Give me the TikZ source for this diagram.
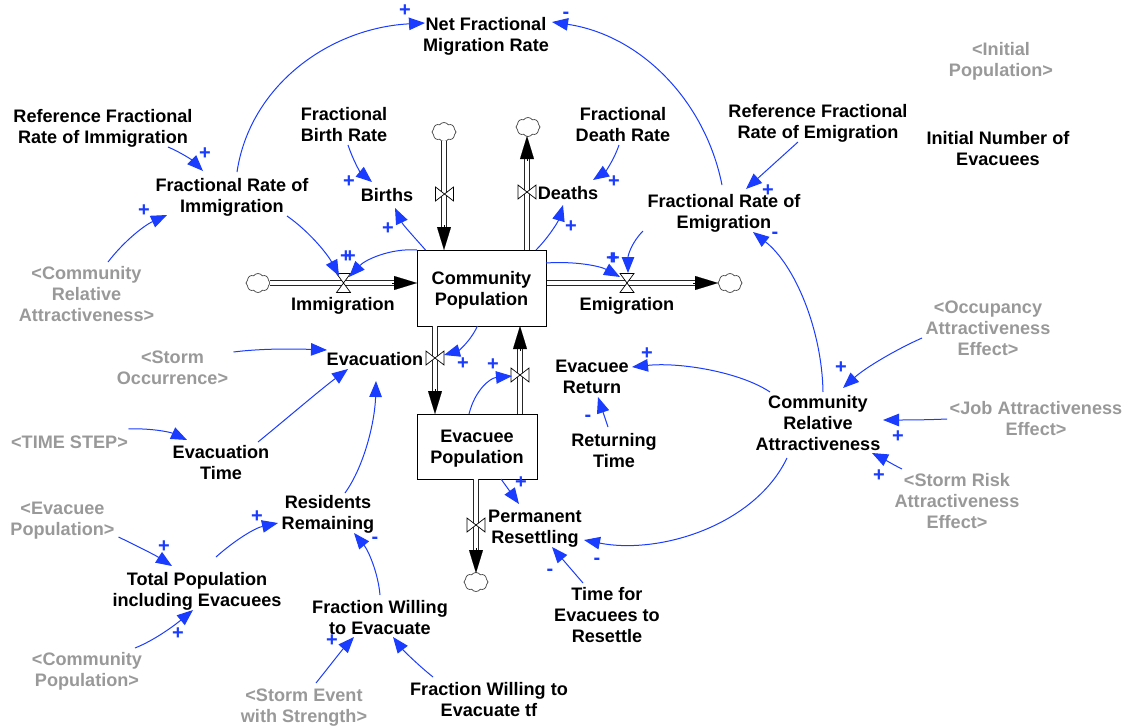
\documentclass[tikz,border=0pt]{standalone}
\usepackage{fontspec}
\setmainfont{Liberation Sans}
\usetikzlibrary{arrows.meta,shapes.symbols,calc}
\definecolor{linkblue}{HTML}{1A3CFF}
\definecolor{shadowgrey}{HTML}{999999}
\newcommand{\dfpipe}[2]{%
  \draw[pipebody] (#1) -- (#2);
  \draw[pipetip] ($(#2)!25pt!(#1)$) -- (#2);}
\newcommand{\valveV}[2]{% valve on a vertical pipe
  \coordinate (#1) at (#2);
  \draw[valvesty] ($(#1)+(-9,-7)$) -- ($(#1)+(9,7)$) -- ($(#1)+(9,-7)$) -- ($(#1)+(-9,7)$) -- cycle;}
\newcommand{\valveH}[2]{% valve on a horizontal pipe
  \coordinate (#1) at (#2);
  \draw[valvesty] ($(#1)+(-7,-9.5)$) -- ($(#1)+(7,9.5)$) -- ($(#1)+(-7,9.5)$) -- ($(#1)+(7,-9.5)$) -- cycle;}
\newcommand{\stocktext}[2]{\raisebox{-2.5pt}[\height][\depth]{\begin{tabular}{@{}c@{}}#1\\#2\end{tabular}}}
\tikzset{
  lbl/.style={font=\fontsize{18.1}{21}\selectfont\bfseries,align=center,inner sep=1pt,text=black},
  lone/.style={lbl,execute at begin node={\rule{0pt}{16pt}}},
  shadow/.style={lbl,text=shadowgrey},
  stock/.style={draw=black,line width=1pt,fill=white,font=\fontsize{18.1}{21}\selectfont\bfseries,inner sep=0pt},
  link/.style={draw=linkblue,line width=1pt,-{Triangle[length=16,width=12.5]}},
  sign/.style={font=\fontsize{20}{20}\selectfont\bfseries,text=linkblue,inner sep=0pt},
  signminus/.style={sign,yshift=-3pt},
  pipebody/.style={draw=black!85,line width=0.9pt,double=white,double distance=3.4pt,shorten >=21pt},
  pipetip/.style={line width=0.1pt,black,-{Triangle[length=23,width=14]}},
  valvesty/.style={draw=black,line width=0.7pt,fill=white},
  sky/.style={cloud,cloud puffs=8,cloud puff arc=110,aspect=1.3,draw=black!75,line width=0.7pt,fill=white,minimum width=24pt,minimum height=19pt,inner sep=0pt},
}
\begin{document}
\begin{tikzpicture}[x=1pt,y=-1pt]
\useasboundingbox (0,0) rectangle (1127,728);
% stocks
\node[stock,minimum width=129pt,minimum height=76pt] (comm) at (481.5,288) {\stocktext{Community}{Population}};
\node[stock,minimum width=120pt,minimum height=65pt] (evbox) at (477,446.5) {\stocktext{Evacuee}{Population}};
% clouds
\node[sky] (c1) at (258,283) {};
\node[sky] (c2) at (730,283) {};
\node[sky] (c3) at (444,132) {};
\node[sky] (c4) at (528,127) {};
\node[sky] (c5) at (476,582) {};
% pipes
\coordinate (immhead) at (417,283);
\coordinate (emigstart) at (547,283);
\coordinate (emighead) at (718,283);
\dfpipe{c1.east}{immhead}
\dfpipe{emigstart}{emighead}
\coordinate (birthtop) at (444,141);
\coordinate (birthend) at (444,250);
\dfpipe{birthtop}{birthend}
\coordinate (deathstart) at (527,250);
\coordinate (deathend) at (527,136);
\dfpipe{deathstart}{deathend}
\coordinate (evacstart) at (435,326);
\coordinate (evacend) at (435,414);
\dfpipe{evacstart}{evacend}
\coordinate (retstart) at (520,414);
\coordinate (retend) at (520,326);
\dfpipe{retstart}{retend}
\coordinate (permstart) at (476,479);
\coordinate (permend) at (476,573);
\dfpipe{permstart}{permend}
% valves
\valveH{vimm}{343.5,283}
\valveH{vemig}{627,283}
\valveV{vbirth}{444.5,194}
\valveV{vdeath}{527,192}
\valveV{vevac}{435,358}
\valveV{vret}{520,375}
\valveV{vperm}{476,525}
% labels
\node[lbl] (netmig) at (486,36) {Net Fractional\\Migration Rate};
\node[shadow] (initpop) at (1001,61) {<Initial\\Population>};
\node[lbl] (reffi) at (103,128) {Reference Fractional\\Rate of Immigration};
\node[lbl] (fbr) at (344,125) {Fractional\\Birth Rate};
\node[lbl] (fdr) at (623,125) {Fractional\\Death Rate};
\node[lbl] (refe) at (818,123) {Reference Fractional\\Rate of Emigration};
\node[lbl] (ine) at (998,148.5) {Initial Number of\\Evacuees};
\node[lbl] (fri) at (232,197) {Fractional Rate of\\Immigration};
\node[lone] (births) at (387,194) {Births};
\node[lone] (deaths) at (568,192) {Deaths};
\node[lbl] (fre) at (724,213) {Fractional Rate of\\Emigration};
\node[shadow] (cra) at (86.5,294) {<Community\\Relative\\Attractiveness>};
\node[lone] (imm) at (343,304) {Immigration};
\node[lone] (emig) at (627,304) {Emigration};
\node[lone] (evac) at (375,358) {Evacuation};
\node[shadow] (storm) at (172.5,368) {<Storm\\Occurrence>};
\node[lbl] (evret) at (592,377) {Evacuee\\Return};
\node[shadow] (occ) at (988,328) {<Occupancy\\Attractiveness\\Effect>};
\node[lbl] (CRA) at (818,423) {Community\\Relative\\Attractiveness};
\node[shadow] (job) at (1036,418.5) {<Job Attractiveness\\Effect>};
\node[shadow] (risk) at (957,501) {<Storm Risk\\Attractiveness\\Effect>};
\node[lbl] (retT) at (614,451) {Returning\\Time};
\node[shadow,lone,text=shadowgrey] (tstep) at (69.5,441) {<TIME STEP>};
\node[lbl] (evacT) at (221,463) {Evacuation\\Time};
\node[lbl] (resrem) at (328,514) {Residents\\Remaining};
\node[shadow] (evpop) at (62.5,521) {<Evacuee\\Population>};
\node[lbl] (perm) at (535,529) {Permanent\\Resettling};
\node[lbl] (tpe) at (197,591) {Total Population\\including Evacuees};
\node[lbl] (fwe) at (380,618) {Fraction Willing\\to Evacuate};
\node[lbl] (tfr) at (607,615) {Time for\\Evacuees to\\Resettle};
\node[shadow] (compop) at (87,671.5) {<Community\\Population>};
\node[shadow] (stormev) at (304,708) {<Storm Event\\with Strength>};
\node[lbl] (fwtf) at (489,700) {Fraction Willing to\\Evacuate tf};
% links
\draw[link] ([shift={(5,-25)}]fri.center) .. controls (250,85) and (330,28) .. ([shift={(-61,-13)}]netmig.center);
\draw[link] ([shift={(-2,-28)}]fre.center) .. controls (705,100) and (640,35) .. ([shift={(66,-14)}]netmig.center);
\draw[link] ([shift={(65,19)}]reffi.center) .. controls (180,152) and (192,160) .. ([shift={(-29,-26)}]fri.center);
\draw[link] ([shift={(21.5,-32)}]cra.center) .. controls (125,240) and (145,225) .. ([shift={(-65,18)}]fri.center);
\draw[link] ([shift={(4,20)}]fbr.center) .. controls (353,160) and (360,172) .. ([shift={(-15,-12)}]births.center);
\draw[link] ([shift={(-56,-38)}]comm.center) .. controls (415,238) and (403,225) .. ([shift={(8,14)}]births.center);
\draw[link] ([shift={(55,19)}]fri.center) .. controls (310,232) and (328,255) .. ([shift={(-4.5,-7)}]vimm);
\draw[link] ([shift={(-64.5,-38)}]comm.center) .. controls (390,248) and (365,260) .. ([shift={(5.5,-6)}]vimm);
\draw[link] ([shift={(-4,20)}]fdr.center) .. controls (614,160) and (605,172) .. ([shift={(25,-12)}]deaths.center);
\draw[link] ([shift={(54.5,-38)}]comm.center) .. controls (548,238) and (558,222) .. ([shift={(-5,13)}]deaths.center);
\draw[link] ([shift={(-20,19)}]refe.center) -- ([shift={(22,-24)}]fre.center);
\draw[link] ([shift={(-81,18)}]fre.center) .. controls (632,242) and (628,255) .. ([shift={(1,-10)}]vemig);
\draw[link] ([shift={(64.5,-25)}]comm.center) .. controls (575,261) and (600,266) .. ([shift={(-7,-6)}]vemig);
\draw[link] ([shift={(5,-31)}]CRA.center) .. controls (822,330) and (795,265) .. ([shift={(29,19)}]fre.center);
\draw[link] ([shift={(-66,10)}]occ.center) .. controls (895,350) and (865,368) .. ([shift={(25,-35)}]CRA.center);
\draw[link] ([shift={(-89,0.5)}]job.center) .. controls (925,420) and (905,420) .. ([shift={(65,-3)}]CRA.center);
\draw[link] ([shift={(-55,-32)}]risk.center) .. controls (890,463) and (882,458) .. ([shift={(54,30)}]CRA.center);
\draw[link] ([shift={(-48,-31)}]CRA.center) .. controls (740,372) and (680,362) .. ([shift={(40,-10)}]evret.center);
\draw[link] ([shift={(-6,-24)}]retT.center) -- ([shift={(6,20)}]evret.center);
\draw[link] ([shift={(-31,35)}]CRA.center) .. controls (755,525) and (660,555) .. ([shift={(49,11)}]perm.center);
\draw[link] ([shift={(-24,-32)}]tfr.center) -- ([shift={(17,18)}]perm.center);
\draw[link] ([shift={(24,32.5)}]evbox.center) -- ([shift={(-16,-25)}]perm.center);
\draw[link] ([shift={(-8,-32.5)}]evbox.center) .. controls (475,390) and (490,378) .. ([shift={(-8,1)}]vret);
\draw[link] ([shift={(-4,38)}]comm.center) .. controls (470,342) and (458,351) .. ([shift={(9,-3)}]vevac);
\draw[link] ([shift={(61,-16)}]storm.center) .. controls (265,348) and (300,349) .. ([shift={(-48,-8)}]evac.center);
\draw[link] ([shift={(37,-21)}]evacT.center) .. controls (285,420) and (320,390) .. ([shift={(-27,11)}]evac.center);
\draw[link] ([shift={(59,-12)}]tstep.center) .. controls (150,428) and (170,432) .. ([shift={(-34,-23)}]evacT.center);
\draw[link] ([shift={(17,-21)}]resrem.center) .. controls (365,465) and (375,420) .. ([shift={(1,23)}]evac.center);
\draw[link] ([shift={(19,-34)}]tpe.center) .. controls (235,540) and (255,528) .. ([shift={(-50,9)}]resrem.center);
\draw[link] ([shift={(56,16)}]evpop.center) .. controls (135,545) and (155,555) .. ([shift={(-25,-25)}]tpe.center);
\draw[link] ([shift={(48,-23.5)}]compop.center) .. controls (155,640) and (175,625) .. ([shift={(-4,19)}]tpe.center);
\draw[link] ([shift={(0,-23)}]fwe.center) .. controls (378,572) and (368,550) .. ([shift={(26,19)}]resrem.center);
\draw[link] ([shift={(12,-25)}]stormev.center) .. controls (328,668) and (342,650) .. ([shift={(-26,19)}]fwe.center);
\draw[link] ([shift={(-56,-23)}]fwtf.center) .. controls (418,665) and (403,650) .. ([shift={(13,19)}]fwe.center);
% polarity signs
\node[sign] (s1) at (405,11) {+};
\node[signminus] (s2) at (566,12) {-};
\node[sign] (s3) at (205,154) {+};
\node[sign] (s4) at (144,211) {+};
\node[sign] (s5) at (349,182) {+};
\node[sign] (s6) at (388,229) {+};
\node[sign] (s7) at (346,257) {+};
\node[sign] (s8) at (350,257) {+};
\node[sign] (s9) at (614,182) {+};
\node[sign] (s10) at (571,227) {+};
\node[sign] (s11) at (768,191) {+};
\node[signminus] (s12) at (775,232) {-};
\node[sign] (s13) at (612,259) {+};
\node[sign] (s14) at (614,259) {+};
\node[sign] (s15) at (463,364) {+};
\node[sign] (s16) at (493,365) {+};
\node[sign] (s17) at (647,354) {+};
\node[signminus] (s18) at (588,415) {-};
\node[sign] (s19) at (841,368) {+};
\node[sign] (s20) at (898,437) {+};
\node[sign] (s21) at (879,476) {+};
\node[signminus] (s22) at (597,558) {-};
\node[signminus] (s23) at (550,569) {-};
\node[sign] (s24) at (521,483) {+};
\node[sign] (s25) at (257,517) {+};
\node[sign] (s26) at (164,547) {+};
\node[sign] (s27) at (178,634) {+};
\node[sign] (s28) at (332,641) {+};
\node[signminus] (s29) at (375,537) {-};
\end{tikzpicture}
\end{document}
